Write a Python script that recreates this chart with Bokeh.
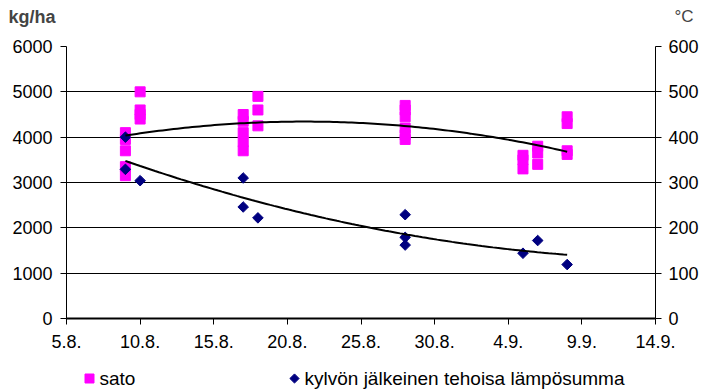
import datetime as dt
import numpy as np
from bokeh.plotting import figure
from bokeh.layouts import column
from bokeh.models import Range1d, LinearAxis, FixedTicker, Label
from bokeh.core.properties import value
from bokeh.embed import file_html
from bokeh.resources import INLINE

# x axis: days from 5 August, labelled every five days
x_tick_labels = ["5.8.", "10.8.", "15.8.", "20.8.", "25.8.", "30.8.", "4.9.", "9.9.", "14.9."]
yield_ticks = [0, 1000, 2000, 3000, 4000, 5000, 6000]
temp_ticks = [0, 100, 200, 300, 400, 500, 600]

# yield (sato), kg/ha, by harvest date
sato_dates = (["9.8."] * 5 + ["10.8."] * 4 + ["17.8."] * 5 + ["18.8."] * 3 +
              ["28.8."] * 6 + ["5.9."] * 3 + ["6.9."] * 3 + ["8.9."] * 4)
sato_kg = [4100, 3950, 3700, 3350, 3150,
           5000, 4600, 4500, 4400,
           4500, 4350, 4100, 3900, 3700,
           4900, 4600, 4250,
           4700, 4600, 4450, 4200, 4050, 3950,
           3600, 3500, 3300,
           3800, 3650, 3400,
           4450, 4300, 3700, 3620]

# effective temperature sum after sowing, degC
temp_dates = ["9.8.", "9.8.", "10.8.", "17.8.", "17.8.", "18.8.",
              "28.8.", "28.8.", "28.8.", "5.9.", "6.9.", "8.9."]
temp_sum = [400, 329, 304, 310, 246, 222, 229, 179, 162, 144, 172, 119]

legend_labels = ["sato", "kylvön jälkeinen tehoisa lämpösumma"]

START = dt.date(2000, 8, 5)


def day_offset(label):
    d, m = [int(v) for v in label.strip(".").split(".")]
    return (dt.date(2000, m, d) - START).days


sato_x = np.array([day_offset(s) for s in sato_dates], dtype=float)
temp_x = np.array([day_offset(s) for s in temp_dates], dtype=float)
tick_x = [day_offset(s) for s in x_tick_labels]

FONT = "Liberation Sans"
W = 701
SATO_COLOR = "#FF00FF"
TEMP_COLOR = "#000080"

# main chart
p = figure(width=W, height=360, output_backend="svg", toolbar_location=None,
           x_range=Range1d(tick_x[0], tick_x[-1]), y_range=Range1d(0, 6000),
           min_border_left=66, min_border_right=46, min_border_top=46,
           min_border_bottom=42, outline_line_color=None)
p.extra_y_ranges = {"temp": Range1d(0, 600)}

p.xgrid.visible = False
p.ygrid.ticker = FixedTicker(ticks=yield_ticks)
p.ygrid.grid_line_color = "black"
p.ygrid.grid_line_width = 1

xa = p.xaxis[0]
xa.ticker = FixedTicker(ticks=tick_x)
xa.major_label_overrides = {t: lab for t, lab in zip(tick_x, x_tick_labels)}
xa.axis_line_width = 2
xa.major_label_standoff = 10

ya = p.yaxis[0]
ya.ticker = FixedTicker(ticks=yield_ticks)
ya.major_label_standoff = 8

ra = LinearAxis(y_range_name="temp", ticker=FixedTicker(ticks=temp_ticks))
ra.major_label_standoff = 7
p.add_layout(ra, "right")

for ax in (xa, ya, ra):
    ax.axis_line_color = "black"
    ax.major_tick_line_color = "black"
    ax.major_tick_in = 0
    ax.major_tick_out = 6
    ax.minor_tick_line_color = None
    ax.major_label_text_font = FONT
    ax.major_label_text_font_size = "18px"
    ax.major_label_text_color = "black"

p.scatter(sato_x, sato_kg, marker="square", size=10,
          fill_color=SATO_COLOR, line_color=SATO_COLOR)
p.scatter(temp_x, temp_sum, marker="square", angle=np.pi / 4, size=7.5,
          fill_color=TEMP_COLOR, line_color=TEMP_COLOR, y_range_name="temp")

# second-order polynomial trend lines
sx = np.linspace(sato_x.min(), sato_x.max(), 120)
p.line(sx, np.polyval(np.polyfit(sato_x, sato_kg, 2), sx), line_color="black", line_width=2)
tx = np.linspace(temp_x.min(), temp_x.max(), 120)
p.line(tx, np.polyval(np.polyfit(temp_x, temp_sum, 2), tx), line_color="black",
       line_width=2, y_range_name="temp")

# unit captions over the two value axes
p.add_layout(Label(x=-58, y=20, x_units="screen", y_units="screen", text="kg/ha",
                   text_font=FONT, text_font_size="18px", text_font_style="bold"),
             "above")
p.add_layout(Label(x=608, y=1, x_units="screen", y_units="screen", text="°C",
                   text_font=FONT, text_font_size="17px"), "above")

# legend strip below the chart; its frame lines up with the chart frame,
# so the strip's ranges are plain page pixels
leg = figure(width=W, height=30, output_backend="svg", toolbar_location=None,
             x_range=Range1d(66, W - 46), y_range=Range1d(390, 360),
             x_axis_location=None, y_axis_location=None, min_border=0,
             outline_line_color=None)
leg.xgrid.visible = False
leg.ygrid.visible = False
leg.scatter([89], [378], marker="square", size=9,
            fill_color=SATO_COLOR, line_color=SATO_COLOR)
leg.scatter([294], [378], marker="square", angle=np.pi / 4, size=6.5,
            fill_color=TEMP_COLOR, line_color=TEMP_COLOR)
leg.text(x=[99, 304], y=[378, 378], text=legend_labels, text_font=value(FONT),
         text_font_size="19px", text_baseline="middle")

open("out.html", "w").write(file_html(column(p, leg, spacing=0), INLINE))
